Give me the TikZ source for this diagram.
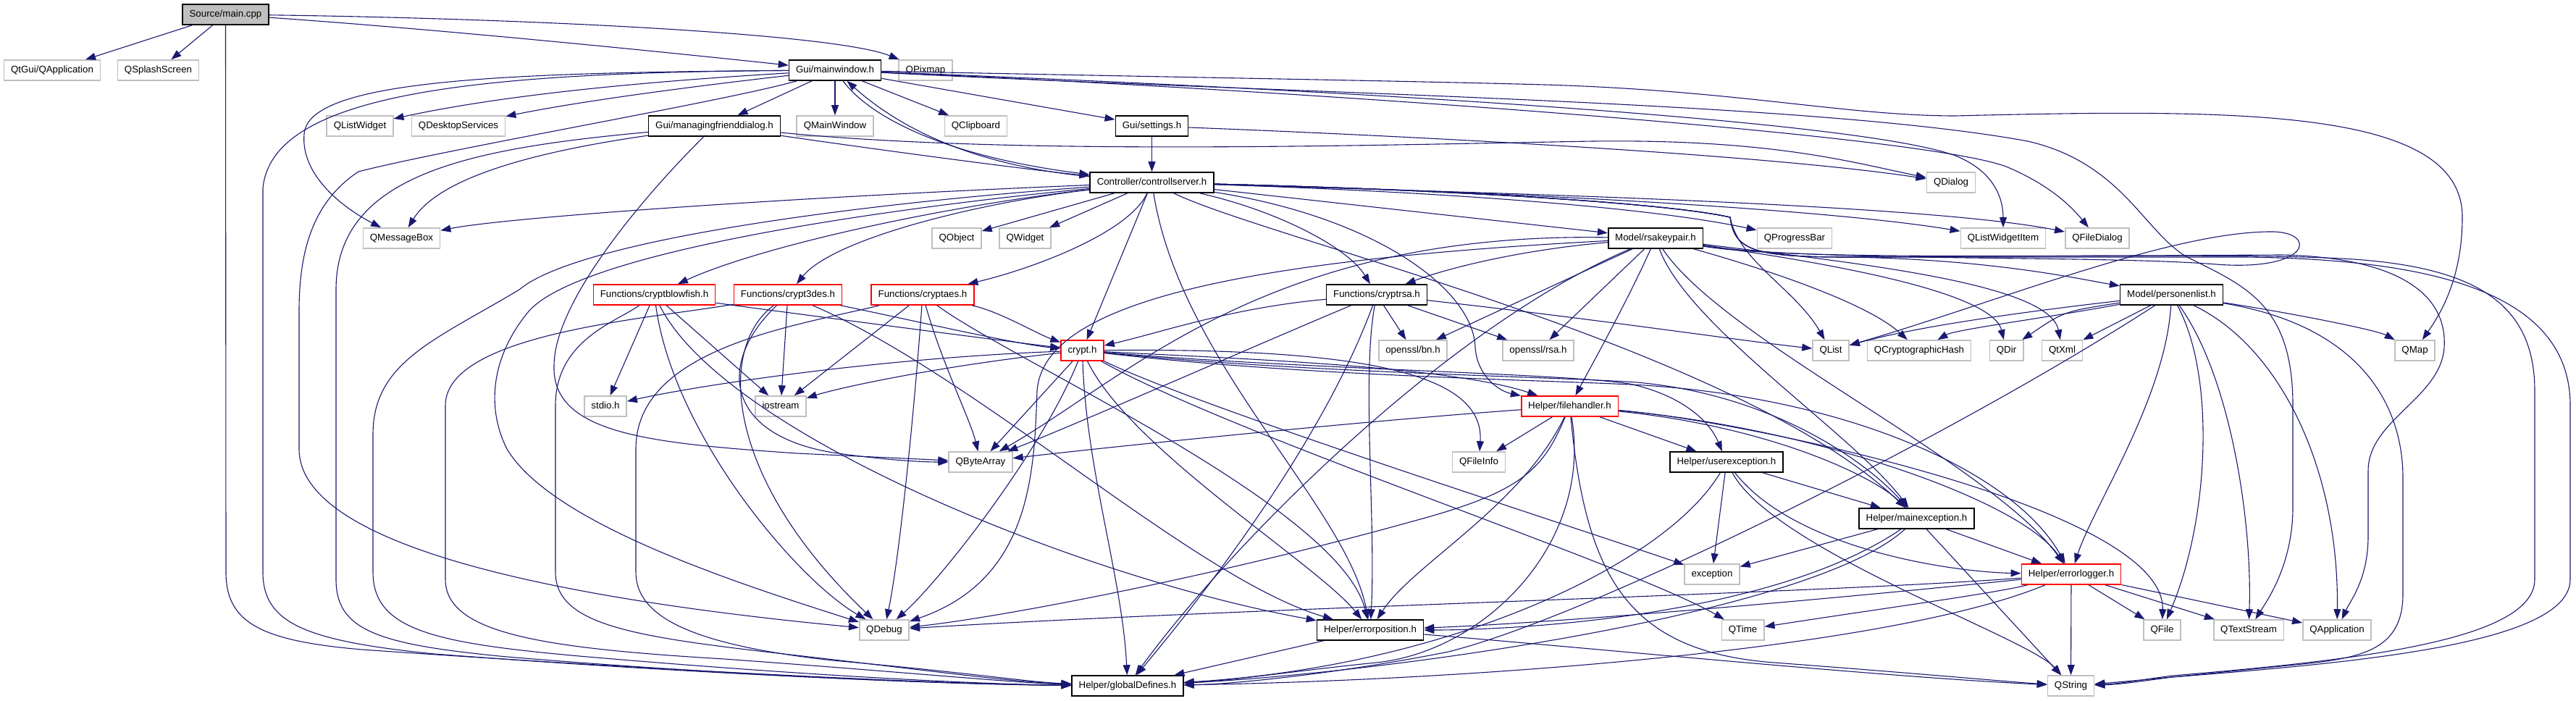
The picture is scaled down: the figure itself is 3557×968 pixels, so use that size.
\documentclass[tikz,border=0pt]{standalone}
\usepackage{fontspec}
\setmainfont{Liberation Sans}
\usepackage{tikz}
\usetikzlibrary{arrows.meta}
\definecolor{depblue}{HTML}{191970}
\definecolor{grey75}{HTML}{BFBFBF}
\definecolor{truncred}{HTML}{FF0000}

\begin{document}
\begin{tikzpicture}[x=1pt, y=-1pt, >={Triangle[length=14pt,width=10pt]},
  every node/.style={font=\fontsize{13.3}{16}\selectfont},
  filebox/.style={draw, rectangle, fill=white, line width=1.6pt, minimum height=28pt, inner xsep=9.5pt, inner ysep=0pt, text height=10pt, text depth=3pt},
  hdr/.style={filebox, draw=black},
  ext/.style={filebox, draw=grey75},
  trunc/.style={filebox, draw=truncred},
  rootbox/.style={filebox, draw=black, fill=grey75},
  dep/.style={->, draw=depblue, line width=1.1pt}]
  \useasboundingbox (0,0) rectangle (3557,968);

  \node[rootbox] (main) at (311.5,20) {Source/main.cpp};
  \node[ext] (qtguiapp) at (72,97) {QtGui/QApplication};
  \node[ext] (qsplash) at (218.5,97) {QSplashScreen};
  \node[hdr] (mainwin) at (1153,97) {Gui/mainwindow.h};
  \node[ext] (qpixmap) at (1278,97) {QPixmap};
  \node[ext] (qlistwidget) at (497,174) {QListWidget};
  \node[ext] (qdesktop) at (633,174) {QDesktopServices};
  \node[hdr] (mfdialog) at (986.5,174) {Gui/managingfrienddialog.h};
  \node[ext] (qmainwindow) at (1153,174) {QMainWindow};
  \node[ext] (qclipboard) at (1347.5,174) {QClipboard};
  \node[hdr] (settings) at (1590.5,174) {Gui/settings.h};
  \node[hdr] (ctrlserver) at (1590.5,252) {Controller/controllserver.h};
  \node[ext] (qdialog) at (2694,252) {QDialog};
  \node[ext] (qmsgbox) at (554.5,329) {QMessageBox};
  \node[ext] (qobject) at (1321,329) {QObject};
  \node[ext] (qwidget) at (1415.5,329) {QWidget};
  \node[hdr] (rsakeypair) at (2286,329) {Model/rsakeypair.h};
  \node[ext] (qprogress) at (2478,329) {QProgressBar};
  \node[ext] (qlistitem) at (2766,329) {QListWidgetItem};
  \node[ext] (qfiledialog) at (2896,329) {QFileDialog};
  \node[trunc] (blowfish) at (903.5,407) {Functions/cryptblowfish.h};
  \node[trunc] (tdes) at (1088,407) {Functions/crypt3des.h};
  \node[trunc] (aes) at (1274,407) {Functions/cryptaes.h};
  \node[hdr] (cryptrsa) at (1901,407) {Functions/cryptrsa.h};
  \node[hdr] (personlist) at (2998.5,407) {Model/personenlist.h};
  \node[trunc] (crypth) at (1494.5,484) {crypt.h};
  \node[ext] (bnh) at (1951,484) {openssl/bn.h};
  \node[ext] (rsah) at (2124,484) {openssl/rsa.h};
  \node[ext] (qlist) at (2528,484) {QList};
  \node[ext] (qcrypthash) at (2650,484) {QCryptographicHash};
  \node[ext] (qdir) at (2770.5,484) {QDir};
  \node[ext] (qtxml) at (2847.5,484) {QtXml};
  \node[ext] (qmap) at (3334.5,484) {QMap};
  \node[ext] (stdioh) at (836,561) {stdio.h};
  \node[ext] (iostream) at (1078,561) {iostream};
  \node[trunc] (filehandler) at (2167.5,561) {Helper/filehandler.h};
  \node[ext] (qbytearray) at (1354,638) {QByteArray};
  \node[ext] (qfileinfo) at (2042,638) {QFileInfo};
  \node[hdr] (userexc) at (2384,638) {Helper/userexception.h};
  \node[hdr] (mainexc) at (2646.5,716) {Helper/mainexception.h};
  \node[ext] (exception) at (2364,793) {exception};
  \node[trunc] (errlogger) at (2860,793) {Helper/errorlogger.h};
  \node[ext] (qdebug) at (1221,870) {QDebug};
  \node[hdr] (errpos) at (1892,870) {Helper/errorposition.h};
  \node[ext] (qtime) at (2406.5,870) {QTime};
  \node[ext] (qfile) at (2985.5,870) {QFile};
  \node[ext] (qtextstream) at (3105,870) {QTextStream};
  \node[ext] (qapp) at (3227,870) {QApplication};
  \node[hdr] (globaldefs) at (1557,947) {Helper/globalDefines.h};
  \node[ext] (qstring) at (2859.5,947) {QString};

  \draw[dep] (main) -- (qtguiapp);
  \draw[dep] (main) -- (qsplash);
  \draw[dep] (main) .. controls (600,40) and (900,70) .. (mainwin);
  \draw[dep] (main) .. controls (700,25) and (1150,45) .. (qpixmap);
  \draw[dep] (main) -- (312,790) .. controls (312,860) and (360,885) .. (500,897) .. controls (900,925) and (1300,945) .. (globaldefs);

  \draw[dep] (mainwin) .. controls (900,112) and (700,130) .. (qlistwidget);
  \draw[dep] (mainwin) .. controls (950,120) and (800,140) .. (qdesktop);
  \draw[dep] (mainwin) -- (mfdialog);
  \draw[dep] (mainwin) -- (qmainwindow);
  \draw[dep] (mainwin) -- (qclipboard);
  \draw[dep] (mainwin) -- (settings);
  \draw[dep] (mainwin) .. controls (1200,160) and (1300,215) .. (ctrlserver);
  \draw[dep] (ctrlserver) .. controls (1340,228) and (1240,175) .. (mainwin);
  \draw[dep] (mainwin) .. controls (680,100) and (425,112) .. (420,185) .. controls (415,240) and (470,285) .. (qmsgbox);
  \draw[dep] (mainwin) .. controls (650,100) and (375,130) .. (363,260) -- (363,790) .. controls (363,860) and (420,885) .. (600,903) .. controls (950,930) and (1300,945) .. (globaldefs);
  \draw[dep] (mainwin) .. controls (1000,140) and (620,205) .. (495,237) .. controls (430,280) and (413,350) .. (413,430) -- (413,620) .. controls (413,760) and (800,830) .. (qdebug);
  \draw[dep] (mainwin) .. controls (1700,118) and (2550,160) .. (2700,215) .. controls (2750,235) and (2766,270) .. (qlistitem);
  \draw[dep] (mainwin) .. controls (1800,125) and (2650,185) .. (2770,230) .. controls (2830,255) and (2860,285) .. (qfiledialog);
  \draw[dep] (mainwin) .. controls (1700,108) and (1950,112) .. (2133,117) .. controls (2400,125) and (2550,160) .. (2700,160) .. controls (3100,150) and (3400,150) .. (3400,300) .. controls (3400,390) and (3365,440) .. (qmap);
  \draw[dep] (mainwin) .. controls (1800,130) and (2500,140) .. (2800,195) .. controls (2930,225) and (2960,320) .. (3020,355) .. controls (3100,395) and (3166,420) .. (3166,560) -- (3166,700) .. controls (3166,780) and (3130,830) .. (qtextstream);

  \draw[dep] (settings) -- (ctrlserver);
  \draw[dep] (settings) .. controls (2000,190) and (2450,215) .. (qdialog);
  \draw[dep] (mfdialog) .. controls (1400,215) and (1900,200) .. (2200,195) .. controls (2450,192) and (2560,225) .. (qdialog);
  \draw[dep] (mfdialog) .. controls (1200,205) and (1400,232) .. (ctrlserver);
  \draw[dep] (mfdialog) .. controls (700,215) and (600,255) .. (qmsgbox);
  \draw[dep] (mfdialog) .. controls (650,205) and (464,240) .. (464,400) -- (464,800) .. controls (464,870) and (520,890) .. (700,907) .. controls (1000,932) and (1300,945) .. (globaldefs);
  \draw[dep] (mfdialog) .. controls (880,280) and (765,420) .. (765,505) .. controls (762,600) and (900,612) .. (1100,626) -- (qbytearray);

  \draw[dep] (ctrlserver) .. controls (1100,272) and (700,300) .. (qmsgbox);
  \draw[dep] (ctrlserver) -- (qobject);
  \draw[dep] (ctrlserver) -- (qwidget);
  \draw[dep] (ctrlserver) .. controls (1300,285) and (1050,340) .. (blowfish);
  \draw[dep] (ctrlserver) .. controls (1350,280) and (1150,330) .. (tdes);
  \draw[dep] (ctrlserver) .. controls (1560,320) and (1430,370) .. (aes);
  \draw[dep] (ctrlserver) -- (crypth);
  \draw[dep] (ctrlserver) .. controls (1760,290) and (1860,340) .. (cryptrsa);
  \draw[dep] (ctrlserver) -- (rsakeypair);
  \draw[dep] (ctrlserver) .. controls (1900,262) and (2250,280) .. (qprogress);
  \draw[dep] (ctrlserver) .. controls (2000,262) and (2500,285) .. (qlistitem);
  \draw[dep] (ctrlserver) .. controls (2000,265) and (2650,280) .. (qfiledialog);
  \draw[dep] (ctrlserver) .. controls (2000,262) and (2300,280) .. (2389,300) .. controls (2395,345) and (2420,355) .. (2550,355) .. controls (2750,358) and (2870,385) .. (personlist);
  \draw[dep] (ctrlserver) .. controls (2000,262) and (2300,280) .. (2389,300) .. controls (2400,360) and (2480,400) .. (qlist);
  \draw[dep] (ctrlserver) .. controls (2000,262) and (2300,280) .. (2389,300) .. controls (2395,345) and (2420,355) .. (2550,355) -- (3100,355) .. controls (3350,358) and (3549,400) .. (3549,560) -- (3549,800) .. controls (3549,890) and (3250,915) .. (3000,935) .. controls (2960,940) and (2930,945) .. (qstring);
  \draw[dep] (ctrlserver) .. controls (2000,262) and (2300,280) .. (2389,300) .. controls (2395,345) and (2420,355) .. (2550,355) -- (3150,352) .. controls (3300,355) and (3380,400) .. (3375,480) .. controls (3370,550) and (3270,580) .. (3270,650) -- (3270,740) .. controls (3270,800) and (3245,830) .. (qapp);
  \draw[dep] (ctrlserver) .. controls (1200,290) and (800,350) .. (730,430) .. controls (680,490) and (670,560) .. (700,620) .. controls (760,720) and (1000,800) .. (qdebug);
  \draw[dep] (ctrlserver) .. controls (1200,280) and (800,330) .. (717,400) .. controls (600,470) and (515,500) .. (515,600) -- (515,790) .. controls (515,870) and (600,888) .. (800,906) .. controls (1100,932) and (1350,945) .. (globaldefs);
  \draw[dep] (ctrlserver) .. controls (1900,300) and (2035,400) .. (2037,480) .. controls (2040,520) and (2070,540) .. (filehandler);
  \draw[dep] (ctrlserver) .. controls (1630,500) and (1860,700) .. (errpos);
  \draw[dep] (ctrlserver) .. controls (1750,330) and (2400,480) .. (mainexc);

  \draw[dep] (rsakeypair) .. controls (2100,345) and (2000,370) .. (cryptrsa);
  \draw[dep] (rsakeypair) -- (bnh);
  \draw[dep] (rsakeypair) -- (rsah);
  \draw[dep] (rsakeypair) .. controls (2450,375) and (2580,420) .. (qcrypthash);
  \draw[dep] (rsakeypair) .. controls (2500,360) and (2750,400) .. (qdir);
  \draw[dep] (rsakeypair) .. controls (2550,362) and (2830,390) .. (qtxml);
  \draw[dep] (rsakeypair) .. controls (2500,362) and (2900,352) .. (3060,365) .. controls (3190,375) and (3200,322) .. (3140,320) .. controls (3000,318) and (2750,420) .. (qlist);
  \draw[dep] (rsakeypair) .. controls (2500,365) and (3050,345) .. (3250,358) .. controls (3420,370) and (3500,420) .. (3500,540) -- (3500,800) .. controls (3500,885) and (3250,912) .. (3000,933) .. controls (2960,938) and (2930,944) .. (qstring);
  \draw[dep] (rsakeypair) .. controls (2245,420) and (2200,500) .. (filehandler);
  \draw[dep] (rsakeypair) .. controls (2330,450) and (2560,600) .. (mainexc);
  \draw[dep] (rsakeypair) .. controls (2380,470) and (2750,640) .. (errlogger);
  \draw[dep] (rsakeypair) .. controls (1700,360) and (1440,420) .. (1432,540) .. controls (1428,650) and (1425,800) .. (qdebug);
  \draw[dep] (rsakeypair) .. controls (1750,320) and (1560,520) .. (qbytearray);
  \draw[dep] (rsakeypair) .. controls (2000,450) and (1700,750) .. (globaldefs);

  \draw[dep] (personlist) .. controls (2820,440) and (2700,455) .. (qcrypthash);
  \draw[dep] (personlist) .. controls (2850,430) .. (qdir);
  \draw[dep] (personlist) -- (qtxml);
  \draw[dep] (personlist) .. controls (3150,430) and (3280,455) .. (qmap);
  \draw[dep] (personlist) .. controls (2800,430) and (2650,450) .. (qlist);
  \draw[dep] (personlist) .. controls (2990,550) and (2890,700) .. (errlogger);
  \draw[dep] (personlist) .. controls (3060,520) and (3050,720) .. (qfile);
  \draw[dep] (personlist) .. controls (3080,520) and (3110,720) .. (qtextstream);
  \draw[dep] (personlist) .. controls (3150,480) and (3230,650) .. (qapp);
  \draw[dep] (personlist) .. controls (3260,450) and (3318,560) .. (3318,660) -- (3318,820) .. controls (3318,905) and (3250,910) .. (3150,920) .. controls (3050,930) and (2950,940) .. (qstring);
  \draw[dep] (personlist) .. controls (2700,600) and (2200,850) .. (2000,900) .. controls (1850,930) and (1700,945) .. (globaldefs);

  \draw[dep] (cryptrsa) .. controls (1700,425) and (1600,460) .. (crypth);
  \draw[dep] (cryptrsa) -- (bnh);
  \draw[dep] (cryptrsa) -- (rsah);
  \draw[dep] (cryptrsa) .. controls (2200,440) and (2400,470) .. (qlist);
  \draw[dep] (cryptrsa) .. controls (1880,520) and (1900,720) .. (errpos);
  \draw[dep] (cryptrsa) .. controls (1830,600) and (1680,800) .. (globaldefs);
  \draw[dep] (cryptrsa) .. controls (1750,470) and (1500,580) .. (qbytearray);

  \draw[dep] (crypth) .. controls (1200,495) and (950,535) .. (stdioh);
  \draw[dep] (crypth) .. controls (1300,505) and (1160,535) .. (iostream);
  \draw[dep] (crypth) -- (qbytearray);
  \draw[dep] (crypth) .. controls (1440,620) and (1300,800) .. (qdebug);
  \draw[dep] (crypth) .. controls (1500,650) and (1550,800) .. (globaldefs);
  \draw[dep] (crypth) .. controls (1560,620) and (1820,780) .. (errpos);
  \draw[dep] (crypth) .. controls (1700,495) and (2000,505) .. (filehandler);
  \draw[dep] (crypth) .. controls (1900,480) and (2050,520) .. (qfileinfo);
  \draw[dep] (crypth) .. controls (1800,510) and (2150,515) .. (2250,530) .. controls (2320,545) and (2360,580) .. (userexc);
  \draw[dep] (crypth) .. controls (1800,515) and (2150,520) .. (2260,528) .. controls (2450,545) and (2580,640) .. (mainexc);
  \draw[dep] (crypth) .. controls (1800,520) and (2150,525) .. (2270,532) .. controls (2550,550) and (2780,650) .. (errlogger);
  \draw[dep] (crypth) .. controls (1700,600) and (2250,780) .. (qtime);
  \draw[dep] (crypth) .. controls (1650,560) and (2150,720) .. (exception);

  \draw[dep] (blowfish) .. controls (1150,440) and (1380,470) .. (crypth);
  \draw[dep] (blowfish) -- (stdioh);
  \draw[dep] (blowfish) -- (iostream);
  \draw[dep] (blowfish) .. controls (930,600) and (1100,800) .. (qdebug);
  \draw[dep] (blowfish) .. controls (850,445) and (767,470) .. (767,560) -- (767,790) .. controls (767,865) and (880,880) .. (1100,905) .. controls (1300,928) and (1400,942) .. (globaldefs);
  \draw[dep] (blowfish) .. controls (1000,600) and (1500,800) .. (errpos);

  \draw[dep] (tdes) .. controls (1250,440) and (1400,475) .. (crypth);
  \draw[dep] (tdes) -- (iostream);
  \draw[dep] (tdes) .. controls (990,500) and (1000,600) .. (1150,625) .. controls (1220,635) and (1270,638) .. (qbytearray);
  \draw[dep] (tdes) .. controls (990,480) and (1000,660) .. (qdebug);
  \draw[dep] (tdes) .. controls (900,440) and (615,460) .. (615,560) -- (615,800) .. controls (615,875) and (750,895) .. (1000,910) .. controls (1250,928) and (1400,943) .. (globaldefs);
  \draw[dep] (tdes) .. controls (1350,520) and (1650,800) .. (errpos);

  \draw[dep] (aes) .. controls (1380,430) and (1430,460) .. (crypth);
  \draw[dep] (aes) -- (iostream);
  \draw[dep] (aes) .. controls (1300,500) and (1340,580) .. (qbytearray);
  \draw[dep] (aes) .. controls (1260,600) and (1240,780) .. (qdebug);
  \draw[dep] (aes) .. controls (1100,450) and (878,480) .. (878,620) -- (878,790) .. controls (878,850) and (950,890) .. (1150,912) .. controls (1350,930) and (1420,942) .. (globaldefs);
  \draw[dep] (aes) .. controls (1400,500) and (1850,700) .. (errpos);

  \draw[dep] (filehandler) -- (qfileinfo);
  \draw[dep] (filehandler) .. controls (1900,580) and (1550,615) .. (qbytearray);
  \draw[dep] (filehandler) .. controls (2130,650) and (2100,680) .. (1950,720) .. controls (1700,790) and (1400,850) .. (qdebug);
  \draw[dep] (filehandler) -- (userexc);
  \draw[dep] (filehandler) .. controls (2450,590) and (2590,660) .. (mainexc);
  \draw[dep] (filehandler) .. controls (2500,590) and (2790,690) .. (errlogger);
  \draw[dep] (filehandler) .. controls (2100,700) and (1950,780) .. (errpos);
  \draw[dep] (filehandler) .. controls (2200,750) and (2050,900) .. (1900,915) .. controls (1800,925) and (1700,940) .. (globaldefs);
  \draw[dep] (filehandler) .. controls (2190,800) and (2250,900) .. (2450,915) .. controls (2650,930) and (2780,942) .. (qstring);
  \draw[dep] (filehandler) .. controls (2400,580) and (2990,700) .. (qfile);

  \draw[dep] (userexc) -- (exception);
  \draw[dep] (userexc) -- (mainexc);
  \draw[dep] (userexc) .. controls (2480,760) and (2700,790) .. (errlogger);
  \draw[dep] (userexc) .. controls (2450,760) and (2800,880) .. (qstring);
  \draw[dep] (userexc) .. controls (2300,780) and (2000,920) .. (globaldefs);

  \draw[dep] (mainexc) -- (exception);
  \draw[dep] (mainexc) -- (errlogger);
  \draw[dep] (mainexc) -- (qstring);
  \draw[dep] (mainexc) .. controls (2450,850) and (2100,870) .. (errpos);
  \draw[dep] (mainexc) .. controls (2500,850) and (1900,930) .. (globaldefs);

  \draw[dep] (errlogger) -- (qstring);
  \draw[dep] (errlogger) -- (qfile);
  \draw[dep] (errlogger) -- (qtextstream);
  \draw[dep] (errlogger) -- (qapp);
  \draw[dep] (errlogger) .. controls (2500,820) and (1700,840) .. (qdebug);
  \draw[dep] (errlogger) .. controls (2500,830) and (2150,860) .. (errpos);
  \draw[dep] (errlogger) .. controls (2600,900) and (2000,940) .. (globaldefs);
  \draw[dep] (errlogger) .. controls (2750,820) and (2600,840) .. (qtime);

  \draw[dep] (errpos) -- (globaldefs);
  \draw[dep] (errpos) .. controls (2200,895) and (2600,935) .. (qstring);
\end{tikzpicture}
\end{document}
